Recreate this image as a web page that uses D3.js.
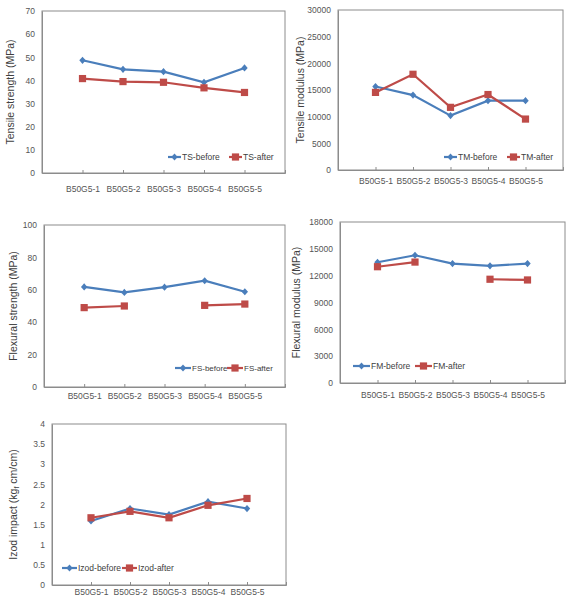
<!DOCTYPE html>
<html><head><meta charset="utf-8">
<script src="https://cdn.jsdelivr.net/npm/d3@7"></script>
<style>body{margin:0;background:#fff}svg{display:block;font-family:"Liberation Sans","DejaVu Sans",sans-serif}</style>
</head><body><svg id="c" width="574" height="607"></svg>
<script>
const categories = ["B50G5-1","B50G5-2","B50G5-3","B50G5-4","B50G5-5"];
const tsBefore = [48.7, 44.8, 43.8, 39.2, 45.4];
const tsAfter = [40.8, 39.5, 39.2, 36.8, 34.8];
const tmBefore = [15650, 14050, 10200, 13000, 13000];
const tmAfter = [14550, 17950, 11750, 14150, 9550];
const fsBefore = [61.8, 58.4, 61.6, 65.6, 58.8];
const fsAfter = [49.0, 50.0, null, 50.4, 51.2];
const fmBefore = [13500, 14280, 13350, 13100, 13350];
const fmAfter = [13000, 13520, null, 11600, 11520];
const izBefore = [1.59, 1.90, 1.75, 2.07, 1.90];
const izAfter = [1.67, 1.83, 1.67, 1.98, 2.15];
const tsTicks = [0,10,20,30,40,50,60,70];
const tmTicks = [0,5000,10000,15000,20000,25000,30000];
const fsTicks = [0,20,40,60,80,100];
const fmTicks = [0,3000,6000,9000,12000,15000,18000];
const izTicks = [0,0.5,1,1.5,2,2.5,3,3.5,4];
const izTickLabels = ["0","0.5","1","1.5","2","2.5","3","3.5","4"];

const svg = d3.select("#c");
const BLUE = "#4a7ebb", RED = "#be4b48";

function panel(o){
  const g = svg.append("g");
  const x = d3.scaleLinear().domain([0, categories.length + 1]).range([o.l, o.r]);
  const y = d3.scaleLinear().domain([o.ticks[0], o.ticks[o.ticks.length-1]]).range([o.b, o.t]);
  g.append("rect").attr("x", o.l).attr("y", o.t).attr("width", o.r - o.l).attr("height", o.b - o.t)
    .attr("fill", "none").attr("stroke", "#8c8c8c").attr("stroke-width", 1);
  const ya = d3.axisLeft(y).tickValues(o.ticks).tickSize(0).tickPadding(7)
    .tickFormat((d,i) => o.tickLabels ? o.tickLabels[i] : d);
  const yg = g.append("g").attr("transform", `translate(${o.l},0)`).call(ya);
  yg.select(".domain").attr("stroke", "#8c8c8c");
  yg.selectAll("text").attr("fill", "#555").style("font-size", "8.5px").style("font-family", "inherit");
  const xa = d3.axisBottom(x).tickValues(d3.range(1, categories.length + 1)).tickSize(-3).tickPadding(o.xpad)
    .tickFormat(d => categories[d-1]);
  const xg = g.append("g").attr("transform", `translate(0,${o.b})`).call(xa);
  xg.select(".domain").attr("stroke", "#8c8c8c");
  xg.selectAll("line").attr("stroke", "#8c8c8c");
  xg.selectAll("text").attr("fill", "#555").style("font-size", "8.5px").style("font-family", "inherit");
  const tt = g.append("text").attr("transform", `translate(${o.tx},${(o.t + o.b)/2}) rotate(-90)`)
    .attr("text-anchor", "middle").attr("fill", "#404040").style("font-size", "10.5px");
  if (o.titleParts) {
    o.titleParts.forEach(p => {
      const s = tt.append("tspan").text(p.t);
      if (p.sub) s.style("font-size", "7px").attr("dy", "2");
      if (p.back) s.attr("dy", "-2");
    });
  } else tt.text(o.title);
  o.series.forEach(s => {
    const idx = d3.range(categories.length);
    const line = d3.line().defined(i => s.values[i] != null).x(i => x(i+1)).y(i => y(s.values[i]));
    g.append("path").attr("d", line(idx)).attr("fill", "none").attr("stroke", s.color).attr("stroke-width", 2.2);
    idx.filter(i => s.values[i] != null).forEach(i => marker(g, x(i+1), y(s.values[i]), s));
  });
  o.series.forEach((s, k) => {
    const lx = o.legend[k], ly = o.ly, len = o.ll;
    g.append("line").attr("x1", lx).attr("x2", lx + len).attr("y1", ly).attr("y2", ly)
      .attr("stroke", s.color).attr("stroke-width", 2.2);
    marker(g, lx + len/2, ly, s);
    g.append("text").attr("x", lx + len + 1).attr("y", ly + 3).attr("fill", "#404040")
      .style("font-size", o.lf + "px").text(s.name);
  });
}
function marker(g, cx, cy, s){
  if (s.shape === "diamond") {
    g.append("path").attr("d", `M${cx},${cy-3.6}L${cx+3.2},${cy}L${cx},${cy+3.6}L${cx-3.2},${cy}Z`).attr("fill", s.color);
  } else {
    g.append("rect").attr("x", cx - 3.6).attr("y", cy - 3.6).attr("width", 7.2).attr("height", 7.2).attr("fill", s.color);
  }
}

panel({l:42, r:285, t:11, b:173, xpad:13, ticks:tsTicks, tx:14, title:"Tensile strength (MPa)", ly:157, legend:[168,229], ll:13, lf:8.5,
  series:[{name:"TS-before", values:tsBefore, color:BLUE, shape:"diamond"},{name:"TS-after", values:tsAfter, color:RED, shape:"square"}]});
panel({l:338, r:563, t:10, b:170, xpad:8, ticks:tmTicks, tx:304, title:"Tensile modulus (MPa)", ly:157, legend:[444,507], ll:13, lf:8.5,
  series:[{name:"TM-before", values:tmBefore, color:BLUE, shape:"diamond"},{name:"TM-after", values:tmAfter, color:RED, shape:"square"}]});
panel({l:44, r:285, t:225, b:387, xpad:6, ticks:fsTicks, tx:17, title:"Flexural strength (MPa)", ly:368, legend:[175,227], ll:16, lf:8,
  series:[{name:"FS-before", values:fsBefore, color:BLUE, shape:"diamond"},{name:"FS-after", values:fsAfter, color:RED, shape:"square"}]});
panel({l:340, r:565, t:222, b:383, xpad:9, ticks:fmTicks, tx:300, title:"Flexural modulus (MPa)", ly:366, legend:[353,415], ll:17, lf:8.5,
  series:[{name:"FM-before", values:fmBefore, color:BLUE, shape:"diamond"},{name:"FM-after", values:fmAfter, color:RED, shape:"square"}]});
panel({l:52, r:286, t:424, b:585, xpad:4, ticks:izTicks, tickLabels:izTickLabels, tx:17, ly:568, legend:[62,122], ll:15, lf:8.5,
  titleParts:[{t:"Izod impact (kg"},{t:"f",sub:true},{t:" cm/cm)",back:true}],
  series:[{name:"Izod-before", values:izBefore, color:BLUE, shape:"diamond"},{name:"Izod-after", values:izAfter, color:RED, shape:"square"}]});
</script></body></html>
